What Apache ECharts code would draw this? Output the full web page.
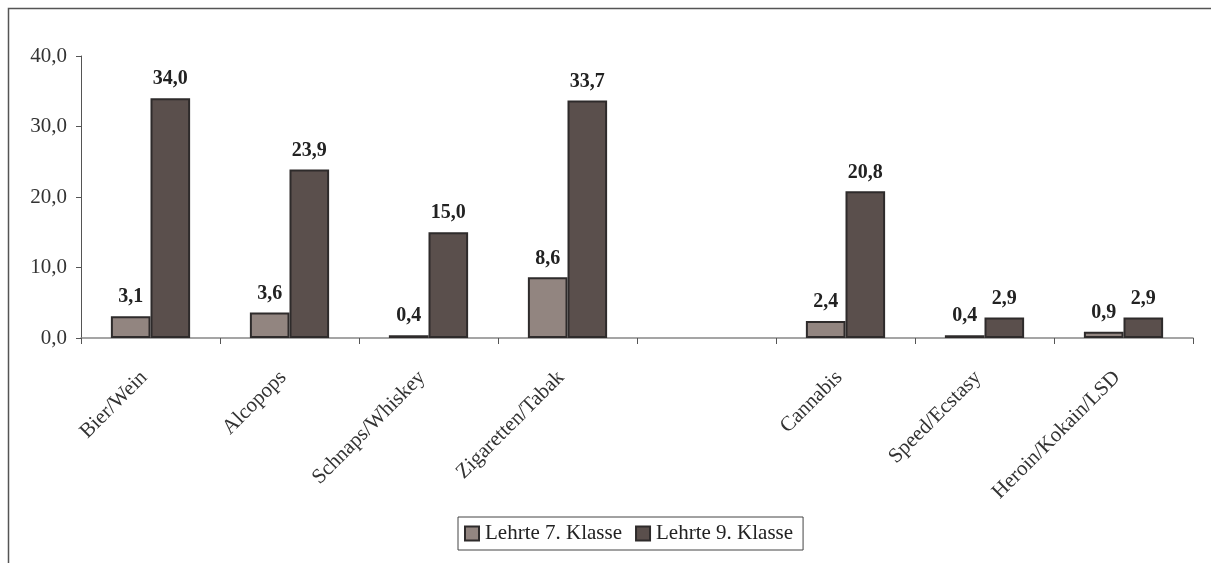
<!DOCTYPE html>
<html>
<head>
<meta charset="utf-8">
<script src="https://cdn.jsdelivr.net/npm/echarts@6/dist/echarts.min.js"></script>
<style>
  html, body { margin: 0; padding: 0; background: #fff; }
  #chart { width: 1211px; height: 563px; }
</style>
</head>
<body>
<div id="chart"></div>
<script>
// Kategorien (leere Stelle zwischen Tabak und Cannabis)
let categories = ['Bier/Wein', 'Alcopops', 'Schnaps/Whiskey', 'Zigaretten/Tabak', '', 'Cannabis', 'Speed/Ecstasy', 'Heroin/Kokain/LSD']
let klasse7 = [3.1, 3.6, 0.4, 8.6, null, 2.4, 0.4, 0.9]
let klasse9 = [34.0, 23.9, 15.0, 33.7, null, 20.8, 2.9, 2.9]
let seriesNames = ['Lehrte 7. Klasse', 'Lehrte 9. Klasse']

let font = '"Liberation Serif", "Times New Roman", serif'
let fmt = v => v.toFixed(1).replace('.', ',')

let chart = echarts.init(document.getElementById('chart'))

function barSeries(name, data, color) {
  return {
    name: name,
    type: 'bar',
    data: data,
    barGap: '0%',
    barCategoryGap: '43%',
    itemStyle: { color: color, borderColor: '#2e2b2b', borderWidth: 2 },
    label: {
      show: true,
      position: 'top',
      distance: 9,
      fontFamily: font,
      fontWeight: 'bold',
      fontSize: 20,
      color: '#222',
      formatter: p => p.value == null ? '' : fmt(p.value)
    }
  }
}

chart.setOption({
  animation: false,
  graphic: [{
    type: 'rect',
    shape: { x: 8.5, y: 8.5, width: 1250, height: 600 },
    style: { fill: 'none', stroke: '#555', lineWidth: 1.5 }
  }],
  grid: { left: 81, right: 18, top: 56, bottom: 225, containLabel: false },
  legend: {
    data: seriesNames,
    top: 517,
    left: 458,
    itemWidth: 14,
    itemHeight: 14,
    itemGap: 13,
    padding: [6, 10, 6, 6],
    borderColor: '#444',
    borderWidth: 1,
    icon: 'rect',
    textStyle: { fontFamily: font, fontSize: 21, color: '#222', padding: [0, 0, 0, 1] }
  },
  xAxis: {
    type: 'category',
    data: categories,
    axisLine: { lineStyle: { color: '#888', width: 1.5 } },
    axisTick: { show: true, length: 6, lineStyle: { color: '#555' } },
    axisLabel: {
      interval: 0,
      rotate: 45,
      margin: 30,
      padding: [0, 9, 0, 0],
      fontFamily: font,
      fontSize: 21,
      color: '#333'
    }
  },
  yAxis: {
    type: 'value',
    min: 0,
    max: 40,
    interval: 10,
    splitLine: { show: false },
    axisLine: { show: true, lineStyle: { color: '#555' } },
    axisTick: { show: true, length: 5, lineStyle: { color: '#555' } },
    axisLabel: {
      fontFamily: font,
      fontSize: 21,
      color: '#333',
      margin: 14,
      formatter: v => fmt(v)
    }
  },
  series: [
    barSeries(seriesNames[0], klasse7, '#928580'),
    barSeries(seriesNames[1], klasse9, '#5a4f4c')
  ]
})
</script>
</body>
</html>
